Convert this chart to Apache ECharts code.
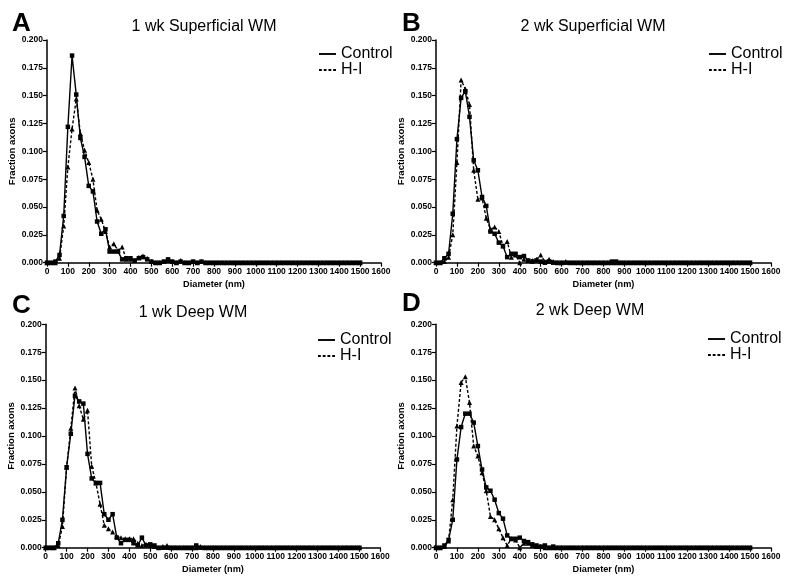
<!DOCTYPE html>
<html><head><meta charset="utf-8">
<script src="https://cdn.jsdelivr.net/npm/echarts@6/dist/echarts.min.js"></script>
<style>html,body{margin:0;padding:0;background:#fff}#c{width:795px;height:587px}</style>
</head><body><div id="c"></div>
<script>
// ---- data ----
const diameters = [0,20,40,60,80,100,120,140,160,180,
  200,220,240,260,280,300,320,340,360,380,
  400,420,440,460,480,500,520,540,560,580,
  600,620,640,660,680,700,720,740,760,780,
  800,820,840,860,880,900,920,940,960,980,
  1000,1020,1040,1060,1080,1100,1120,1140,1160,1180,
  1200,1220,1240,1260,1280,1300,1320,1340,1360,1380,
  1400,1420,1440,1460,1480,1500];

const panelLetters = ['A','B','C','D'];
const panelTitles = ['1 wk Superficial WM','2 wk Superficial WM','1 wk Deep WM','2 wk Deep WM'];
const seriesNames = ['Control','H-I'];
const xAxisTitle = 'Diameter (nm)';
const yAxisTitle = 'Fraction axons';

const controlA = [0,0,0.001,0.007,0.042,0.122,0.186,0.151,0.112,0.095,
  0.069,0.064,0.037,0.026,0.030,0.010,0.010,0.010,0.003,0.004,
  0.004,0.002,0.004,0.005,0.003,0.001,0,0,0.001,0.003,
  0.001,0,0.001,0,0,0.001,0,0.001,0,0,
  0,0,0,0,0,0,0,0,0,0,
  0,0,0,0,0,0,0,0,0,0,
  0,0,0,0,0,0,0,0,0,0,
  0,0,0,0,0,0];
const hiA = [0,0,0,0.004,0.033,0.086,0.120,0.147,0.116,0.101,
  0.090,0.075,0.047,0.039,0.028,0.014,0.017,0.011,0.014,0.003,
  0.003,0.002,0.005,0.006,0.004,0.001,0,0,0.001,0.002,
  0.001,0,0.002,0,0,0.001,0,0.001,0,0,
  0,0,0,0,0,0,0,0,0,0,
  0,0,0,0,0,0,0,0,0,0,
  0,0,0,0,0,0,0,0,0,0,
  0,0,0,0,0,0];
const controlB = [0,0,0.004,0.008,0.044,0.111,0.148,0.154,0.131,0.092,
  0.083,0.059,0.051,0.028,0.026,0.018,0.015,0.005,0.008,0.008,
  0.005,0.006,0.002,0.001,0.002,0.001,0,0.001,0,0,
  0,0,0,0,0,0,0,0,0,0,
  0,0,0.001,0.001,0,0,0,0,0,0,
  0,0,0,0,0,0,0,0,0,0,
  0,0,0,0,0,0,0,0,0,0,
  0,0,0,0,0,0];
const hiB = [0,0,0.001,0.005,0.025,0.090,0.164,0.156,0.142,0.083,
  0.057,0.058,0.040,0.030,0.032,0.028,0.015,0.019,0.005,0.007,
  0,0.003,0.002,0.002,0.003,0.007,0.001,0.003,0.001,0,
  0,0.001,0,0,0,0,0,0,0,0,
  0,0,0,0,0,0,0,0,0,0,
  0,0,0,0,0,0,0,0,0,0,
  0,0,0,0,0,0,0,0,0,0,
  0,0,0,0,0,0];
const controlC = [0,0,0,0.004,0.025,0.072,0.102,0.136,0.131,0.129,
  0.084,0.062,0.058,0.058,0.030,0.025,0.030,0.009,0.004,0.007,
  0.007,0.004,0.002,0.009,0.002,0.003,0.002,0,0,0,
  0,0,0,0,0,0,0.002,0,0,0,
  0,0,0,0,0,0,0,0,0,0,
  0,0,0,0,0,0,0,0,0,0,
  0,0,0,0,0,0,0,0,0,0,
  0,0,0,0,0,0];
const hiC = [0,0,0,0.002,0.019,0.072,0.107,0.143,0.127,0.115,
  0.123,0.073,0.058,0.039,0.020,0.017,0.014,0.010,0.009,0.008,
  0.008,0.008,0.004,0.002,0.003,0.002,0.001,0,0.001,0.002,
  0,0,0,0,0,0,0,0.001,0,0,
  0,0,0,0,0,0,0,0,0,0,
  0,0,0,0,0,0,0,0,0,0,
  0,0,0,0,0,0,0,0,0,0,
  0,0,0,0,0,0];
const controlD = [0,0,0.002,0.007,0.025,0.079,0.108,0.120,0.120,0.112,
  0.091,0.070,0.054,0.051,0.043,0.031,0.026,0.011,0.008,0.008,
  0.009,0.006,0.005,0.003,0.002,0.001,0.002,0,0.001,0,
  0,0,0,0,0,0,0,0,0,0,
  0,0,0,0,0,0,0,0,0,0,
  0,0,0,0,0,0,0,0,0,0,
  0,0,0,0,0,0,0,0,0,0,
  0,0,0,0,0,0];
const hiD = [0,0,0.001,0.006,0.043,0.109,0.148,0.153,0.130,0.091,
  0.082,0.067,0.051,0.028,0.025,0.017,0.009,0.002,0.008,0.007,
  0,0.004,0.004,0.002,0.001,0.001,0,0,0,0,
  0,0,0,0,0,0,0,0,0,0,
  0,0,0,0,0,0,0,0,0,0,
  0,0,0,0,0,0,0,0,0,0,
  0,0,0,0,0,0,0,0,0,0,
  0,0,0,0,0,0];

const panelControl = [controlA, controlB, controlC, controlD];
const panelHI = [hiA, hiB, hiC, hiD];

// ---- layout (kept apart from data) ----
const FONT = "'Liberation Sans', Arial, Helvetica, sans-serif";
const layout = [
  {grid:{left:47, top:40, width:334, height:222.7}, letter:{left:12, top:11}, title:{left:204, top:19}, legend:{left:319, top:46}, yGap:27},
  {grid:{left:436, top:40, width:335, height:222.7}, letter:{left:402, top:11}, title:{left:593, top:19}, legend:{left:709, top:46}, yGap:25},
  {grid:{left:45.7, top:324.3, width:334.6, height:223.4}, letter:{left:12, top:293}, title:{left:193, top:305}, legend:{left:318, top:332}, yGap:26},
  {grid:{left:436, top:324.3, width:335, height:223.4}, letter:{left:402, top:291}, title:{left:590, top:303}, legend:{left:708, top:331}, yGap:26}
];

const option = {animation:false, backgroundColor:'#fff', grid:[], xAxis:[], yAxis:[], series:[], title:[], legend:[]};

layout.forEach((L, i) => {
  option.grid.push(Object.assign({containLabel:false}, L.grid));
  option.xAxis.push({
    type:'value', gridIndex:i, min:0, max:1600, interval:100,
    name:xAxisTitle, nameLocation:'middle', nameGap:17,
    nameTextStyle:{fontFamily:FONT, fontWeight:'bold', fontSize:9.2, color:'#000'},
    axisLine:{show:true, onZero:false, lineStyle:{color:'#000', width:1.5}},
    axisTick:{show:true, length:4, lineStyle:{color:'#000', width:1.2}},
    axisLabel:{fontFamily:FONT, fontWeight:'bold', fontSize:8.5, color:'#000', margin:4,
      hideOverlap:false, showMinLabel:true, showMaxLabel:true, formatter:v => String(v)},
    splitLine:{show:false}
  });
  option.yAxis.push({
    type:'value', gridIndex:i, min:0, max:0.2, interval:0.025,
    name:yAxisTitle, nameLocation:'middle', nameGap:L.yGap,
    nameTextStyle:{fontFamily:FONT, fontWeight:'bold', fontSize:9.5, color:'#000'},
    axisLine:{show:true, lineStyle:{color:'#000', width:1.5}},
    axisTick:{show:true, length:4, lineStyle:{color:'#000', width:1.2}},
    axisLabel:{fontFamily:FONT, fontWeight:'bold', fontSize:8.5, color:'#000', margin:4,
      formatter:v => v.toFixed(3)},
    splitLine:{show:false}
  });
  option.series.push({
    type:'line', name:seriesNames[1], xAxisIndex:i, yAxisIndex:i,
    data:diameters.map((d, k) => [d, panelHI[i][k]]),
    color:'#000', symbol:'triangle', symbolSize:5, showSymbol:true, showAllSymbol:true,
    lineStyle:{color:'#000', width:1.4, type:[3,2]}, itemStyle:{color:'#000'}, z:2
  });
  option.series.push({
    type:'line', name:seriesNames[0], xAxisIndex:i, yAxisIndex:i,
    data:diameters.map((d, k) => [d, panelControl[i][k]]),
    color:'#000', symbol:'rect', symbolSize:4.5, showSymbol:true, showAllSymbol:true,
    lineStyle:{color:'#000', width:1.4, type:'solid'}, itemStyle:{color:'#000'}, z:3
  });
  option.title.push({
    text:panelLetters[i], left:L.letter.left, top:L.letter.top, padding:0,
    textStyle:{fontFamily:FONT, fontWeight:900, fontSize:26, color:'#000'}
  });
  option.title.push({
    text:panelTitles[i], left:L.title.left, top:L.title.top, textAlign:'center', padding:0,
    textStyle:{fontFamily:FONT, fontWeight:'normal', fontSize:16, color:'#000'}
  });
  option.legend.push({
    left:L.legend.left, top:L.legend.top, orient:'vertical', padding:0, itemGap:0,
    itemWidth:17, itemHeight:2, selectedMode:false,
    textStyle:{fontFamily:FONT, fontSize:16, color:'#000', lineHeight:16},
    data:[
      {name:seriesNames[0], icon:'path://M0,0H18V2H0Z'},
      {name:seriesNames[1], icon:'path://M0,0H3V2H0ZM5,0H8V2H5ZM10,0H13V2H10ZM15,0H18V2H15Z'}
    ]
  });
});

const chart = echarts.init(document.getElementById('c'), null, {renderer:'canvas'});
chart.setOption(option);
</script>
</body></html>
